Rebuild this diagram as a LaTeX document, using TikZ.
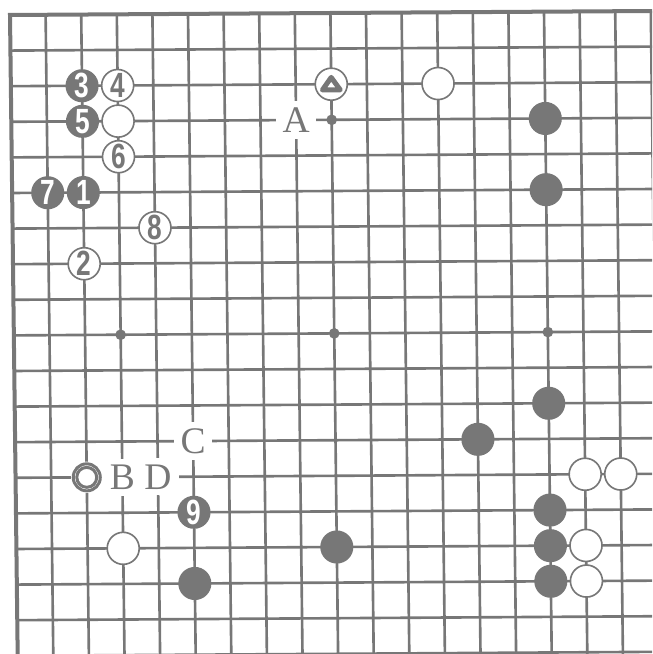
\documentclass[tikz,border=0pt]{standalone}
\usepackage{fontspec}
\setmainfont{Liberation Serif}
\newfontfamily\stonefont[FakeStretch=0.75]{Liberation Sans}
\usetikzlibrary{calc}
\definecolor{ink}{HTML}{777777}
\begin{document}
\begin{tikzpicture}[x={(1cm,0.0062cm)},y={(-0.012cm,1cm)},
  bstone/.style={circle,fill=ink,minimum size=0.93cm,inner sep=0pt,text=white,
    font=\stonefont\bfseries\fontsize{28}{28}\selectfont},
  wstone/.style={circle,draw=ink,line width=1.3pt,fill=white,minimum size=0.9cm,inner sep=0pt,
    text=ink,font=\stonefont\bfseries\fontsize{28}{28}\selectfont},
  letter/.style={fill=white,inner sep=5pt,text=ink,font=\fontsize{30}{30}\selectfont}]
  \useasboundingbox (-0.281cm,0.421cm) rectangle (18.034cm,-17.95cm);
  \clip (-0.281cm,0.421cm) rectangle (18.034cm,-17.95cm);
  % board
  \foreach \i in {1,...,19} {
    \draw[ink,line width=2.1pt] (\i,0) -- (\i,-19);
    \draw[ink,line width=2.1pt] (0,-\i) -- (19,-\i);
  }
  \draw[ink,line width=3.2pt] (0,-19) -- (0,0) -- (19,0);
  \foreach \x in {3,9,15} \foreach \y in {3,9,15}
    \fill[ink] (\x,-\y) circle (0.15);
  % labels
  \node[letter] (lA) at (8,-3) {A};
  \node[letter] (lC) at (5,-12) {C};
  \node[letter,inner xsep=6pt] (lB) at (3,-13) {B};
  \node[letter,inner xsep=6pt] (lD) at (4,-13) {D};
  % black stones
  \foreach \x/\y [count=\k] in {15/3,15/5,15/11,13/12,15/14,15/15,15/16,9/15,5/16}
    \node[bstone] (bk\k) at (\x,-\y) {};
  % white stones
  \foreach \x/\y [count=\k] in {12/2,3/3,16/13,17/13,16/15,16/16,3/15}
    \node[wstone] (wt\k) at (\x,-\y) {};
  % marked stones
  \node[wstone] (tri) at (9,-2) {};
  \draw[ink,line width=4pt,line join=round] ($(tri)+(0,0.19)$) -- ($(tri)+(-0.25,-0.16)$)
    -- ($(tri)+(0.25,-0.16)$) -- cycle;
  \node[circle,fill=white,minimum size=0.88cm,inner sep=0pt] (ring) at (2,-13) {};
  \draw[ink,line width=2.4pt] (ring) circle (0.38);
  \draw[ink,line width=2.4pt] (ring) circle (0.28);
  % numbered moves
  \node[bstone] (m1) at (2,-5) {1};
  \node[wstone] (m2) at (2,-7) {2};
  \node[bstone] (m3) at (2,-2) {3};
  \node[wstone] (m4) at (3,-2) {4};
  \node[bstone] (m5) at (2,-3) {5};
  \node[wstone] (m6) at (3,-4) {6};
  \node[bstone] (m7) at (1,-5) {7};
  \node[wstone] (m8) at (4,-6) {8};
  \node[bstone] (m9) at (5,-14) {9};
\end{tikzpicture}
\end{document}
